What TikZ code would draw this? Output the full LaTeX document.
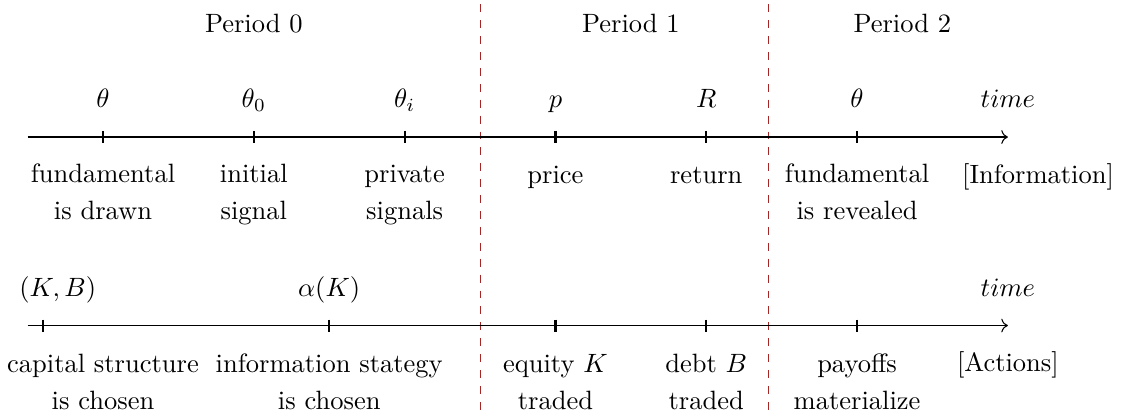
\documentclass[tikz,border=0pt]{standalone}
\usepackage{tikz}
\usetikzlibrary{arrows.meta}

\begin{document}
\begin{tikzpicture}[
    tickmark/.style={thick},
    periodsep/.style={red, dashed},
    varlbl/.style={anchor=base},
    evtlbl/.style={anchor=base, align=center}
  ]

  \useasboundingbox (-0.366,-3.70) rectangle (14.50,1.817);

  % Period headings
  \node[anchor=base] (per0) at (3,1.38) {Period 0};
  \node[anchor=base] (per1) at (8,1.38) {Period 1};
  \node[anchor=base] (per2) at (11.6,1.38) {Period 2};

  % Period separators
  \coordinate (sepAtop) at (6,1.76);
  \coordinate (sepAbot) at (6,-3.70);
  \coordinate (sepBtop) at (9.82,1.76);
  \coordinate (sepBbot) at (9.82,-3.70);
  \draw[periodsep] (sepAtop) -- (sepAbot);
  \draw[periodsep] (sepBtop) -- (sepBbot);

  % Information time line
  \coordinate (infoStart) at (0,0);
  \coordinate (infoEnd) at (13,0);
  \draw[->] (infoStart) -- (infoEnd);
  \draw[tickmark] (1,0.08) -- (1,-0.08);
  \draw[tickmark] (3,0.08) -- (3,-0.08);
  \draw[tickmark] (5,0.08) -- (5,-0.08);
  \draw[tickmark] (7,0.08) -- (7,-0.08);
  \draw[tickmark] (9,0.08) -- (9,-0.08);
  \draw[tickmark] (11,0.08) -- (11,-0.08);

  \node[varlbl] (vTheta) at (1,0.39) {$\theta$};
  \node[varlbl] (vThetaZero) at (3,0.39) {$\theta_0$};
  \node[varlbl] (vThetaI) at (5,0.39) {$\theta_i$};
  \node[varlbl] (vPrice) at (7,0.39) {$p$};
  \node[varlbl] (vReturn) at (9,0.39) {$R$};
  \node[varlbl] (vThetaRev) at (11,0.39) {$\theta$};
  \node[varlbl] (infoTime) at (13,0.39) {$time$};

  % base = last line, so two-line labels sit on the second baseline
  \node[evtlbl] (eDrawn) at (1,-1.10) {fundamental\\[2pt]is drawn};
  \node[evtlbl] (eInitial) at (3,-1.10) {initial\\[2pt]signal};
  \node[evtlbl] (ePrivate) at (5,-1.10) {private\\[2pt]signals};
  \node[evtlbl] (ePrice) at (7,-0.62) {price};
  \node[evtlbl] (eReturn) at (9,-0.62) {return};
  \node[evtlbl] (eRevealed) at (11,-1.10) {fundamental\\[2pt]is revealed};
  \node[evtlbl] (infoTag) at (13.4,-0.62) {[Information]};

  % Actions time line
  \coordinate (actStart) at (0,-2.5);
  \coordinate (actEnd) at (13,-2.5);
  \draw[->] (actStart) -- (actEnd);
  \draw[tickmark] (0.2,-2.42) -- (0.2,-2.58);
  \draw[tickmark] (4,-2.42) -- (4,-2.58);
  \draw[tickmark] (7,-2.42) -- (7,-2.58);
  \draw[tickmark] (9,-2.42) -- (9,-2.58);
  \draw[tickmark] (11,-2.42) -- (11,-2.58);

  \node[varlbl] (vKB) at (0.4,-2.11) {$(K,B)$};
  \node[varlbl] (vAlpha) at (4,-2.11) {$\alpha(K)$};
  \node[varlbl] (actTime) at (13,-2.11) {$time$};

  \node[evtlbl] (aCapital) at (1,-3.61) {capital structure\\[2pt]is chosen};
  \node[evtlbl] (aInfo) at (4,-3.61) {information stategy\\[2pt]is chosen};
  \node[evtlbl] (aEquity) at (7,-3.61) {equity $K$\\[2pt]traded};
  \node[evtlbl] (aDebt) at (9,-3.61) {debt $B$\\[2pt]traded};
  \node[evtlbl] (aPayoffs) at (11,-3.61) {payoffs\\[2pt]materialize};
  \node[evtlbl] (actTag) at (13,-3.11) {[Actions]};

\end{tikzpicture}
\end{document}
